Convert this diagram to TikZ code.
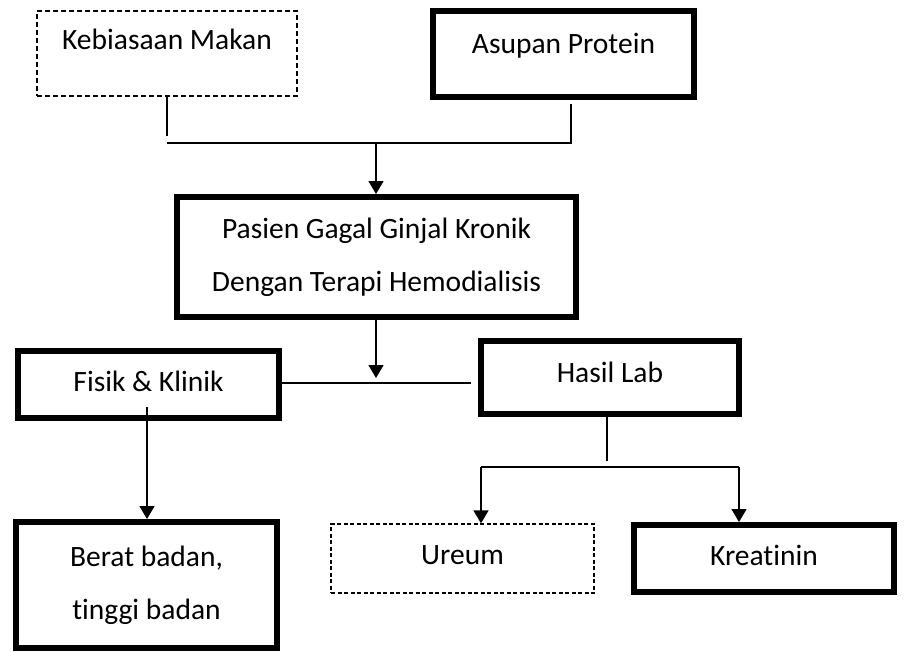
\documentclass[tikz,border=0pt]{standalone}
\usepackage{fontspec}
\setmainfont{Carlito}[Ligatures=NoCommon]
\usetikzlibrary{arrows.meta,positioning}

\begin{document}
\begin{tikzpicture}[x=1pt,y=-1pt]
		\tikzset{box/.style={draw,rectangle,inner sep=0pt,font=\fontsize{29.5}{53}\selectfont}}
		\tikzset{thickbox/.style={box,line width=6pt}}
		\tikzset{dashbox/.style={box,line width=2.2pt,dash pattern=on 5pt off 3pt}}
		\tikzset{oneline/.style={text height=20pt,text depth=#1}}
		\tikzset{link/.style={line width=1.4pt}}
		\tikzset{arrow/.style={link,-{Triangle[width=15pt,length=13pt]}}}
		\useasboundingbox (0,0) rectangle (905,651);
		% boxes
		\node[dashbox,oneline=29pt,minimum width=260,minimum height=85] (makan) at (167,53.5) {Kebiasaan Makan};
		\node[thickbox,oneline=22pt,minimum width=261,minimum height=86] (protein) at (563.5,54) {Asupan Protein};
		\node[thickbox,align=center,minimum width=399,minimum height=120] (pasien) at (376.5,257) {Pasien Gagal Ginjal Kronik\\Dengan Terapi Hemodialisis};
		\node[thickbox,oneline=7pt,minimum width=261,minimum height=67] (fisik) at (148.5,384.5) {Fisik \& Klinik};
		\node[thickbox,oneline=11pt,minimum width=258,minimum height=73] (lab) at (610,377.5) {Hasil Lab};
		\node[thickbox,align=center,minimum width=261,minimum height=126] (berat) at (146.5,585) {Berat badan,\\tinggi badan};
		\node[box,line width=1.3pt,dash pattern=on 4pt off 2.5pt,oneline=9pt,minimum width=263,minimum height=69] (ureum) at (462.5,558.5) {Ureum};
		\node[thickbox,oneline=7pt,minimum width=260,minimum height=67] (kreatinin) at (764,558.5) {Kreatinin};
		% connectors
		\coordinate (topjoin) at (376,143);
		\draw[link] (makan.south) -- ++(0,39);
		\draw[link] ([xshift=7.5pt,yshift=-4pt]protein.south) -- (571,143) -- (makan.south |- topjoin);
		\draw[arrow] (topjoin) -- (topjoin |- pasien.north);
		\coordinate (midjoin) at (376,383);
		\coordinate (labgap) at (471,383);
		\draw[arrow] (pasien.south -| midjoin) -- ([yshift=5pt]midjoin);
		\draw[link] (fisik.east |- midjoin) -- (labgap);
		\coordinate (fisikdown) at (147,407);
		\draw[arrow] (fisikdown) -- (fisikdown |- berat.north);
		\coordinate (labjoin) at (607,461);
		\coordinate (ureumtop) at (481,467);
		\coordinate (kreatop) at (739,467);
		\draw[link] (lab.south -| labjoin) -- (labjoin);
		\draw[link] (ureumtop) -- (kreatop);
		\draw[arrow] (ureumtop) -- (ureumtop |- ureum.north);
		\draw[arrow] (kreatop) -- (kreatop |- kreatinin.north);
	\end{tikzpicture}
\end{document}
